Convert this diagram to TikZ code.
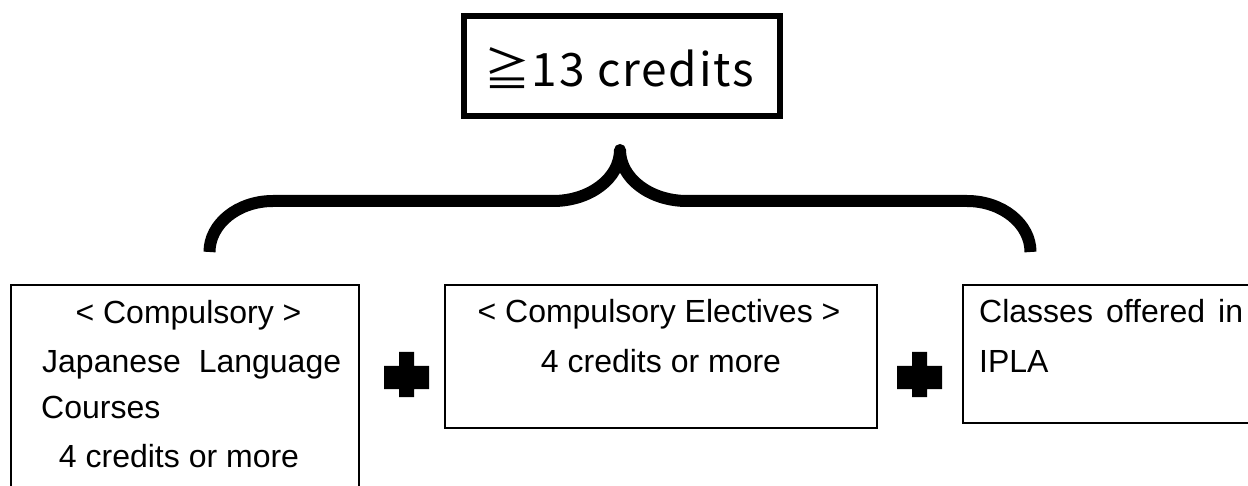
\documentclass[tikz,border=0pt]{standalone}
\usepackage{fontspec}
\setmainfont{Liberation Sans}
\newfontfamily\jpfont[LetterSpace=4]{Noto Sans CJK JP}
\begin{document}
\begin{tikzpicture}[x=1pt,y=-1pt,
  boxline/.style={draw=black, line width=1.8pt, inner sep=0pt},
  txt/.style={font=\fontsize{32}{38}\selectfont, inner sep=0pt, text=black},
  brace/.style={draw=black, line width=12pt, line join=round, line cap=butt},
  plussign/.style={fill=black, draw=none}]
\useasboundingbox (0,0) rectangle (1248,486);
\clip (0,0) rectangle (1248,486);

% top box
\node[draw=black, line width=6pt, minimum width=316pt, minimum height=100pt, inner sep=0pt] (total) at (622,66) {};
\node[inner sep=0pt, anchor=base west, font=\fontsize{46}{54}\selectfont\jpfont] (totaltext) at (484,87) {≧13 credits};

% brace
\coordinate (bl) at (209.5,252);
\coordinate (tip) at (620,150);
\coordinate (br) at (1030.5,252);
\draw[brace] (bl) .. controls (209.5,223.8) and (237.9,201) .. (273,201)
  -- (553,201) .. controls (590,201) and (620,178.2) .. (tip)
  .. controls (620,178.2) and (650,201) .. (687,201)
  -- (967,201) .. controls (1002.1,201) and (1030.5,223.8) .. (br);

% boxes
\node[boxline, minimum width=348pt, minimum height=235pt] (box1) at (185,402.5) {};
\node[boxline, minimum width=432pt, minimum height=143pt] (box2) at (661,356.5) {};
\node[boxline, minimum width=337pt, minimum height=138pt] (box3) at (1131.5,354) {};

% box 1 text
\node[txt, anchor=base] (b1l1) at (188.5,324) {< Compulsory >};
\node[txt, anchor=base west] (b1l2) at (42,372) {\makebox[299pt][s]{Japanese Language}};
\node[txt, anchor=base west] (b1l3) at (41,418) {Courses};
\node[txt, anchor=base] (b1l4) at (179,467) {4 credits or more};

% box 2 text
\node[txt, anchor=base] (b2l1) at (659,323) {< Compulsory Electives >};
\node[txt, anchor=base] (b2l2) at (661,372) {4 credits or more};

% box 3 text
\node[txt, anchor=base west] (b3l1) at (979,323) {\makebox[264pt][s]{Classes offered in}};
\node[txt, anchor=base west] (b3l2) at (979,372) {IPLA};

% plus signs
\fill[plussign] (384,366) -- (399,366) -- (399,352) -- (414,352) -- (414,366) -- (429,366)
  -- (429,389) -- (414,389) -- (414,397) -- (399,397) -- (399,389) -- (384,389) -- cycle;
\fill[plussign] (897,366) -- (912,366) -- (912,352) -- (927,352) -- (927,366) -- (942,366)
  -- (942,389) -- (927,389) -- (927,397) -- (912,397) -- (912,389) -- (897,389) -- cycle;
\end{tikzpicture}
\end{document}
